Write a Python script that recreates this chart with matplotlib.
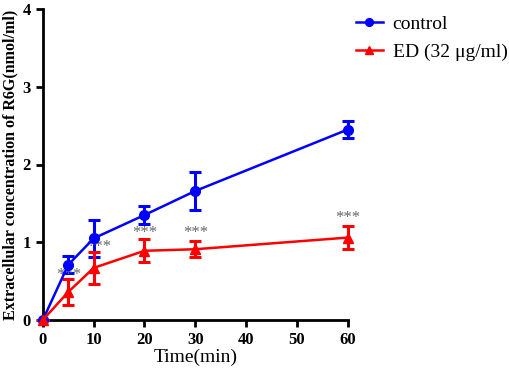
"""
R6G efflux - control vs ED (32 ug/ml).
"""
import matplotlib
matplotlib.use("Agg")
import matplotlib.pyplot as plt

# ── Dados ──────────────────────────────────────────────
time_min = [0, 5, 10, 20, 30, 60]
control_mean = [0.0, 0.71, 1.05, 1.35, 1.66, 2.45]
control_err = [0.0, 0.11, 0.24, 0.11, 0.24, 0.11]
ed_mean = [0.0, 0.36, 0.67, 0.89, 0.91, 1.06]
ed_err = [0.0, 0.17, 0.21, 0.15, 0.10, 0.15]

star_x = [5, 11, 20, 30, 60]
star_y = [0.58, 0.94, 1.12, 1.12, 1.31]

x_ticks = [0, 10, 20, 30, 40, 50, 60]
y_ticks = [0, 1, 2, 3, 4]

plt.rcParams["font.family"] = ["Liberation Serif", "DejaVu Serif"]

fig = plt.figure(figsize=(5.1, 3.76), dpi=100)
ax = fig.add_axes([0.084, 0.149, 0.598, 0.827])

# barras de erro (sem legenda)
ax.errorbar(time_min, control_mean, yerr=control_err, color="#0000ff",
            fmt="none", elinewidth=2.2, capsize=4.5, capthick=2.2,
            clip_on=False, zorder=3)
ax.errorbar(time_min, ed_mean, yerr=ed_err, color="#ff0000",
            fmt="none", elinewidth=2.2, capsize=4.5, capthick=2.2,
            clip_on=False, zorder=3)

# linhas + marcadores
ax.plot(time_min, control_mean, color="#0000ff", marker="o", markersize=7,
        linewidth=1.8, label="control", clip_on=False, zorder=4)
ax.plot(time_min, ed_mean, color="#ff0000", marker="^", markersize=7,
        linewidth=1.8, label="ED (32 μg/ml)", clip_on=False, zorder=4)

for sx, sy in zip(star_x, star_y):
    ax.text(sx, sy, "***", ha="center", va="center", fontsize=12,
            color="#666666")

ax.set_xlim(0, 60)
ax.set_ylim(0, 4)
ax.set_xticks(x_ticks)
ax.set_yticks(y_ticks)

for side in ["top", "right"]:
    ax.spines[side].set_visible(False)
for side in ["left", "bottom"]:
    ax.spines[side].set_linewidth(2)

ax.tick_params(direction="out", length=5, width=2, labelsize=12)
for lbl in ax.get_xticklabels() + ax.get_yticklabels():
    lbl.set_fontweight("bold")

ax.set_xlabel("Time(min)", fontsize=14, labelpad=1)
ax.set_ylabel("Extracellular concentration of R6G(nmol/ml)", fontsize=11.5,
              fontweight="bold", labelpad=3)

leg = ax.legend(loc="upper left", bbox_to_anchor=(1.0, 1.005), frameon=False,
                fontsize=14, handlelength=1.4, handletextpad=0.5,
                labelspacing=0.55, markerscale=0.8,
                borderaxespad=0.2, borderpad=0.2)

fig.savefig("out.png", dpi=100)
